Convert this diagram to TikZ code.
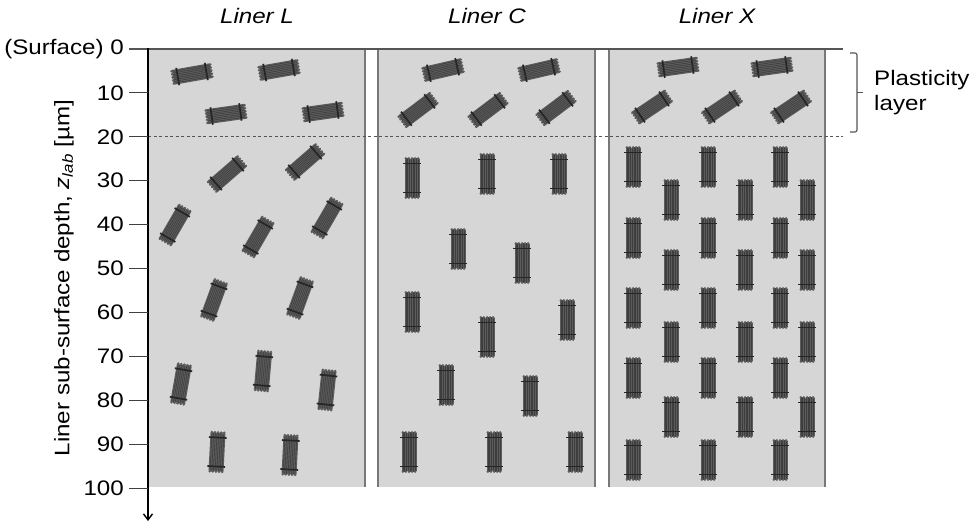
\documentclass[tikz,border=0pt]{standalone}
\usepackage{fontspec}
\setmainfont{Liberation Sans}[FakeStretch=1.15]
\usetikzlibrary{arrows.meta}
\definecolor{slab}{RGB}{214,214,214}
\definecolor{slabedge}{RGB}{120,120,120}
\definecolor{rim}{RGB}{85,85,85}
\definecolor{flake}{RGB}{92,92,92}
\definecolor{flakeline}{RGB}{62,62,62}
\tikzset{
  >={Straight Barb[length=6pt,width=9pt]},
  panel/.style={fill=slab,draw=none},
  edge/.style={draw=slabedge,line width=1.3pt},
  title/.style={font=\fontsize{21}{25}\selectfont\itshape},
  lbl/.style={font=\fontsize{21}{25}\selectfont,inner sep=0pt},
  tick/.style={draw=black!75,line width=0.9pt},
  % graphite flake, long axis along x
  pics/flake/.style={code={
    \fill[flake] (-19,-7.5) rectangle (19,7.5);
    \foreach \s in {-6,-4.3,...,6.1} \draw[flakeline,line width=0.6pt] (-20,\s) -- (20,\s);
    \foreach \s in {-6.2,-3.1,0,3.1,6.2} {
      \fill[flake] (-19.6,\s) circle (1.4);
      \fill[flake] (19.6,\s) circle (1.4);
    }
    \draw[black!85,line width=1.7pt] (-14.5,-8.8) -- (-14.5,8.8) (14.5,-8.8) -- (14.5,8.8);
  }},
}

\begin{document}
\begin{tikzpicture}[x=1pt,y=-1pt]
  \useasboundingbox (0,0) rectangle (971,522);

  % liner panels
  \fill[panel] (148,49) rectangle (365,487);
  \fill[panel] (378,49) rectangle (595,487);
  \fill[panel] (609,49) rectangle (825,487);
  \foreach \xe in {365,378,595,609,825} \draw[edge] (\xe,50) -- (\xe,487);

  \node[title] (tL) at (257,16) {Liner L};
  \node[title] (tC) at (487,16) {Liner C};
  \node[title] (tX) at (717,16) {Liner X};

  % flakes: Liner L
  \foreach \px/\py/\a in {192/74/10, 279/70/10, 226/114/8, 323/112/8,
      227/174/41, 305/162/41, 175/225/60, 258/237/60, 327/218/60,
      214/300/70, 300/298/70, 181/384/80, 263/371/85, 327/390/84,
      217/452/87, 290/455/87}
    \pic[rotate=\a] at (\px,\py) {flake};
  % flakes: Liner C
  \foreach \px/\py/\a in {443/70/13, 539/70/13, 418/110/37, 488/110/37, 556/108/37}
    \pic[rotate=\a] at (\px,\py) {flake};
  \foreach \px/\py in {412/178, 487/174, 559/174, 458/249, 522/263, 412/312,
      487/337, 567/320, 446/385, 530/396, 409/452, 494/452, 575/452}
    \pic[rotate=90] at (\px,\py) {flake};
  % flakes: Liner X
  \foreach \px/\py/\a in {678/67/8, 772/67/8, 652/107/34, 722/107/34, 791/107/34}
    \pic[rotate=\a] at (\px,\py) {flake};
  \foreach \px in {633,708,780} \foreach \py in {167,238,308,378,460}
    \pic[rotate=90] at (\px,\py) {flake};
  \foreach \px in {671,745,807} \foreach \py in {200,270,342,417}
    \pic[rotate=90] at (\px,\py) {flake};

  % surface and plasticity boundary
  \coordinate (s0) at (129,49);
  \coordinate (s1) at (843,49);
  \draw[rim,line width=2.2pt] (s0) -- (s1);
  \coordinate (p0) at (148,136.8);
  \coordinate (p1) at (843,136.8);
  \draw[rim,line width=1pt,dash pattern=on 3pt off 2.5pt] (p0) -- (p1);

  % depth axis
  \coordinate (ax0) at (148,48);
  \coordinate (ax1) at (148,521);
  \draw[->,line width=1.4pt] (ax0) -- (ax1);
  \foreach \d in {10,20,...,100} {
    \draw[tick] (129,49+4.39*\d) -- (148,49+4.39*\d);
    \node[lbl,anchor=east] (d\d) at (124,49+4.39*\d) {\d};
  }
  \node[lbl,anchor=east] (d0) at (124,49) {(Surface) 0};
  \node[lbl,rotate=90] (ylab) at (64,278) {Liner sub-surface depth, \textit{z}\textsubscript{\textit{lab}} [µm]};

  % plasticity layer bracket
  \coordinate (b0) at (850,53);
  \coordinate (b1) at (850,132);
  \draw[rim,line width=1.1pt,rounded corners=2pt] (b0) -- (857,53) -- (857,132) -- (b1);
  \coordinate (bm) at (857,92.5);
  \draw[rim,line width=1.1pt] (bm) -- ++(6,0);
  \node[lbl,anchor=west,align=left] (plast) at (874,93) {Plasticity\\layer};
\end{tikzpicture}
\end{document}
